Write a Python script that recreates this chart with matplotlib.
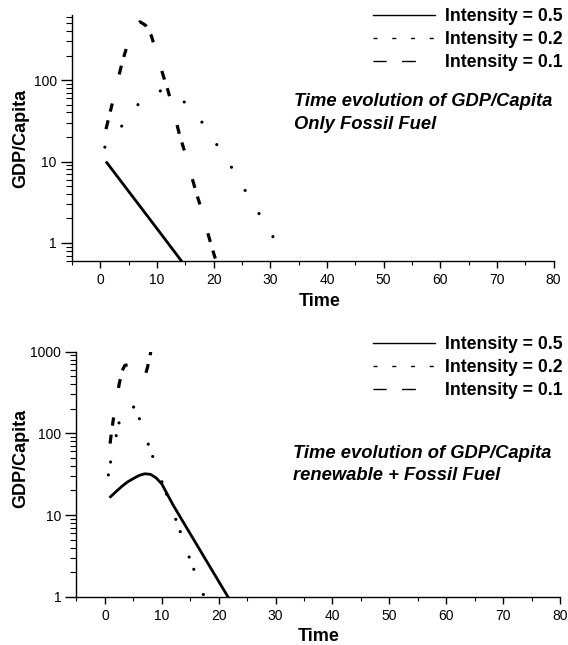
import matplotlib
matplotlib.use("Agg")
import matplotlib.pyplot as plt
from matplotlib.lines import Line2D
from matplotlib.ticker import FixedLocator, NullFormatter, LogLocator

plt.rcParams['font.family'] = ['Liberation Sans', 'DejaVu Sans']
plt.rcParams['lines.scale_dashes'] = False

# ---- data: only fossil fuel ----
t_f05 = [1, 5, 10, 15]
gdp_f05 = [10, 4.3, 1.5, 0.52]

t_f02 = [0.8, 2, 4, 6, 8, 10, 11, 12, 14, 16, 18, 20, 22, 24, 26, 28, 30, 32]
gdp_f02 = [15, 19, 28.5, 45, 62, 73, 74, 71, 60, 46, 30, 18.5, 11.3, 6.9, 3.9, 2.3, 1.35, 0.8]

t_f01 = [1, 2, 3, 4, 5, 6, 7, 8, 9, 10, 11, 12, 13, 14, 15, 16, 17, 18, 19, 20, 21]
gdp_f01 = [25, 48, 95, 180, 300, 430, 520, 470, 350, 210, 120, 72, 40, 21, 12.5, 7.0,
           4.0, 2.4, 1.3, 0.75, 0.45]

# ---- data: renewable + fossil fuel ----
t_r05 = [0.8, 2, 3, 4, 5, 6, 7, 8, 9, 10, 12, 14, 16, 18, 20, 22]
gdp_r05 = [16.3, 19.5, 22.5, 25.5, 28, 30.5, 32, 31.5, 28.5, 24, 13.2, 7.7, 4.5, 2.63, 1.54, 0.9]

t_r02 = [0.6, 1, 1.5, 2, 2.5, 3, 3.5, 4, 4.5, 5, 5.5, 6, 6.5, 7, 7.6, 8.4, 9, 10, 11, 12,
         13, 14, 15, 16, 17, 18]
gdp_r02 = [31, 45, 66, 95, 137, 175, 205, 222, 225, 212, 185, 155, 125, 100, 74, 52, 40,
           25.7, 16.6, 10.8, 7.0, 4.4, 2.8, 1.85, 1.2, 0.8]

t_r01 = [0.9, 1.2, 1.6, 2, 2.5, 3, 3.5, 4, 4.5, 5, 5.5, 6, 6.5, 7, 7.5, 8, 8.3]
gdp_r01 = [75, 110, 170, 250, 400, 580, 680, 690, 630, 550, 500, 465, 450, 490, 650, 950, 1300]

labels = ['Intensity = 0.5', 'Intensity = 0.2', 'Intensity = 0.1']
notes = ['Time evolution of GDP/Capita\nOnly Fossil Fuel',
         'Time evolution of GDP/Capita\nrenewable + Fossil Fuel']

W, H = 568, 645
fig = plt.figure(figsize=(W / 100, H / 100), dpi=100)
ax1 = fig.add_axes([72 / W, 1 - 261 / H, 481.5 / W, 246 / H])
ax2 = fig.add_axes([76.5 / W, 1 - 596.7 / H, 483.5 / W, 245 / H])

dot_top = (0, (0.01, 19.4))
dot_bot = (0, (0.01, 9.4, 0.01, 19.4))
dash_pat = (0, (6.5, 6.5, 6, 21.5))

ax1.plot(t_f05, gdp_f05, color='black', lw=2.0, solid_capstyle='butt')
ax1.plot(t_f02, gdp_f02, color='black', lw=2.3, linestyle=dot_top, dash_capstyle='round')
ax1.plot(t_f01, gdp_f01, color='black', lw=2.3, linestyle=dash_pat, dash_capstyle='butt')

ax2.plot(t_r05, gdp_r05, color='black', lw=2.0, solid_capstyle='butt')
ax2.plot(t_r02, gdp_r02, color='black', lw=2.3, linestyle=dot_bot, dash_capstyle='round')
ax2.plot(t_r01, gdp_r01, color='black', lw=2.3, linestyle=dash_pat, dash_capstyle='butt')

ax1.set_ylim(0.6, 630)
ax2.set_ylim(1, 1000)

handles = [Line2D([], [], color='black', lw=1.0),
           Line2D([], [], color='black', lw=1.0, linestyle=(0, (2.9, 10.6))),
           Line2D([], [], color='black', lw=1.0, linestyle=(0, (9.5, 11, 10, 30)))]

for ax, note, top_px in [(ax1, notes[0], 8), (ax2, notes[1], 336)]:
    ax.set_yscale('log')
    ax.set_xlim(-5, 80)
    ax.spines['top'].set_visible(False)
    ax.spines['right'].set_visible(False)
    ax.spines['left'].set_linewidth(1.0)
    ax.spines['bottom'].set_linewidth(1.0)
    ax.xaxis.set_major_locator(FixedLocator([0, 10, 20, 30, 40, 50, 60, 70, 80]))
    ax.xaxis.set_minor_locator(FixedLocator([-5, 5, 15, 25, 35, 45, 55, 65, 75]))
    ax.yaxis.set_major_locator(LogLocator(base=10))
    ax.yaxis.set_minor_locator(LogLocator(base=10, subs=range(2, 10)))
    ax.yaxis.set_minor_formatter(NullFormatter())
    ax.yaxis.set_major_formatter(plt.FuncFormatter(lambda v, p: '%g' % v))
    ax.tick_params(which='major', direction='out', width=1.0, labelsize=10)
    ax.tick_params(axis='x', which='major', length=5, pad=4)
    ax.tick_params(axis='y', which='major', length=8, pad=3)
    ax.tick_params(axis='x', which='minor', direction='out', length=3, width=0.8)
    ax.tick_params(axis='y', which='minor', direction='out', length=4, width=0.8)
    ax.set_xlabel('Time', fontsize=13, fontweight='bold')
    ax.set_ylabel('GDP/Capita', fontsize=13, fontweight='bold')
    leg = ax.legend(handles, labels, loc='upper left',
                    bbox_to_anchor=(373 / W, 1 - top_px / H),
                    bbox_transform=fig.transFigure, frameon=False,
                    prop={'weight': 'bold', 'size': 12.7}, borderpad=0,
                    borderaxespad=0, handlelength=3.5, handletextpad=0.6,
                    labelspacing=0.34)

ax1.xaxis.set_label_coords(0.515, -0.13)
ax2.xaxis.set_label_coords(0.5016, -0.128)
ax1.yaxis.set_label_coords(-0.089, 0.50)
ax2.yaxis.set_label_coords(-0.097, 0.566)

fig.text(294 / W, 1 - 112.9 / H, notes[0], fontsize=13.2, fontweight='bold',
         fontstyle='italic', ha='left', va='center', linespacing=1.4)
fig.text(293 / W, 1 - 464.5 / H, notes[1], fontsize=13.2, fontweight='bold',
         fontstyle='italic', ha='left', va='center', linespacing=1.4)

fig.savefig('out.png', dpi=100)
